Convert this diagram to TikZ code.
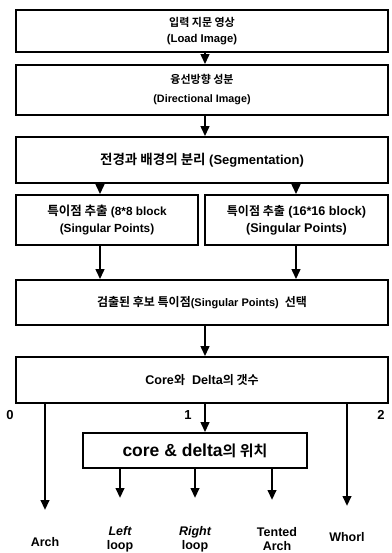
\documentclass[tikz,border=0pt]{standalone}
\usepackage{fontspec}
\setmainfont{Liberation Sans}
\newfontfamily\kr{Noto Sans CJK KR}[BoldFont={Noto Sans CJK KR Bold}]
\newcommand{\KS}[2]{{\kr\fontsize{#1}{#1}\selectfont\bfseries #2}}
\newcommand{\FS}[2]{\fontsize{#1}{#2}\selectfont\bfseries}
\usetikzlibrary{arrows.meta,calc}
\begin{document}
\begin{tikzpicture}[x=1pt,y=-1pt,
  box/.style={draw,line width=1.6pt,minimum height=#1,inner sep=1pt,align=center},
  arr/.style={line width=2.3pt,-{Triangle[length=10pt,width=8.5pt]}},
  lbl/.style={font=\FS{12.5}{14},align=center,inner sep=0pt}]
\useasboundingbox (0,0) rectangle (391,553);
\node[box=42pt,minimum width=372pt,font=\FS{11.3}{17}] (b1) at (202,31) {\KS{11}{입력 지문 영상}\\[-1pt](Load Image)};
\node[box=50pt,minimum width=372pt,font=\FS{10.8}{19}] (b2) at (202,90) {\KS{11}{융선방향 성분}\\(Directional Image)};
\node[box=46pt,minimum width=372pt,font=\FS{13}{15}] (b3) at (202,160) {\KS{13.5}{전경과 배경의 분리} (Segmentation)};
\node[box=50pt,minimum width=182pt,font=\FS{11.8}{17}] (b4) at (107,220) {\KS{12.5}{특이점 추출} (8*8 block\\(Singular Points)};
\node[box=50pt,minimum width=183pt,font=\FS{12.6}{17}] (b5) at (296.5,220) {\KS{12}{특이점 추출} (16*16 block)\\(Singular Points)};
\node[box=45pt,minimum width=372pt,font=\FS{11}{13}] (b6) at (202,302.5) {\KS{12}{검출된 후보 특이점}(Singular Points) \ \KS{12}{선택}};
\node[box=46pt,minimum width=372pt,font=\FS{12.6}{15}] (b7) at (202,380) {Core\KS{12}{와} \ Delta\KS{12}{의 갯수}};
\node[box=35pt,minimum width=224pt,font=\FS{17.5}{20}] (b8) at (195,450.5) {core \& delta\KS{15}{의 위치}};
\coordinate (x1) at (205,0);
\coordinate (x4) at (100,0);
\coordinate (x5) at (296,0);
\coordinate (xa) at (45,0);
\coordinate (xw) at (347,0);
\coordinate (xl) at (120,0);
\coordinate (xr) at (195,0);
\coordinate (xt) at (272,0);
\draw[arr] (b1.south -| x1) -- (b2.north -| x1);
\draw[arr] (b2.south -| x1) -- (b3.north -| x1);
\draw[arr] (b3.south -| x4) -- (b4.north -| x4);
\draw[arr] (b3.south -| x5) -- (b5.north -| x5);
\draw[arr] (b4.south -| x4) -- (b6.north -| x4);
\draw[arr] (b5.south -| x5) -- (b6.north -| x5);
\draw[arr] (b6.south -| x1) -- (b7.north -| x1);
\draw[arr] (b7.south -| x1) -- (b8.north -| x1);
\coordinate (ea) at (45,510);
\coordinate (ew) at (347,506);
\coordinate (el) at (120,498);
\coordinate (er) at (195,498);
\coordinate (et) at (272,500);
\draw[arr] (b7.south -| xa) -- (ea);
\draw[arr] (b7.south -| xw) -- (ew);
\draw[arr] (b8.south -| xl) -- (el);
\draw[arr] (b8.south -| xr) -- (er);
\draw[arr] (b8.south -| xt) -- (et);
\node[lbl,font=\FS{13}{14}] (n0) at (10,415) {0};
\node[lbl,font=\FS{13}{14}] (n1) at (188,415) {1};
\node[lbl,font=\FS{13}{14}] (n2) at (381,415) {2};
\node[lbl] (ta) at (45,542) {Arch};
\node[lbl] (tl) at (120,539.5) {\itshape Left\\loop};
\node[lbl] (tr) at (195,539.5) {\itshape Right\\loop};
\node[lbl] (tt) at (277,539.5) {Tented\\Arch};
\node[lbl] (tw) at (347,537) {Whorl};
\end{tikzpicture}
\end{document}
